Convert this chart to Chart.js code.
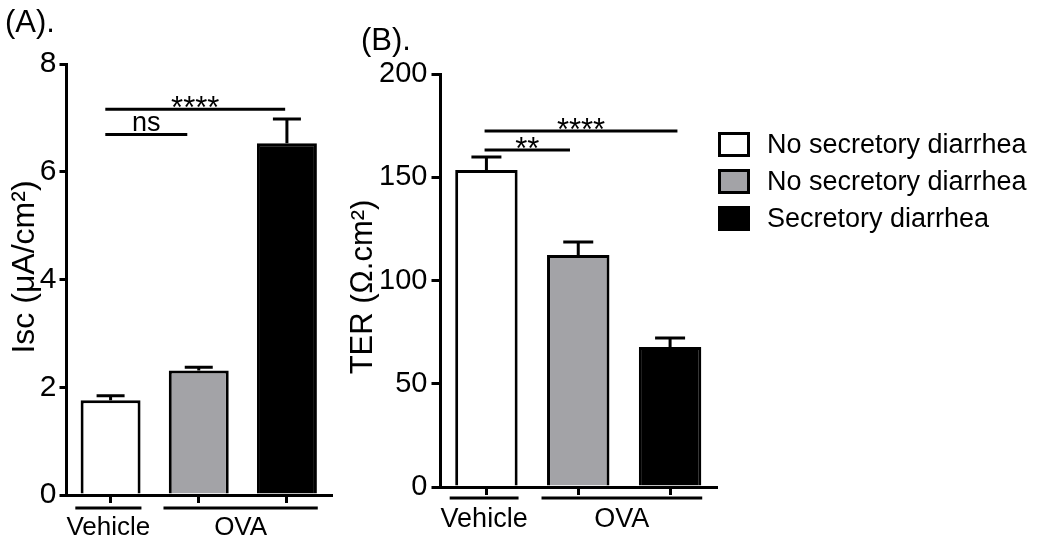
<!DOCTYPE html>
<html lang="en">
<head>
  <meta charset="UTF-8">
  <title>Isc and TER</title>
  <script src="https://cdn.jsdelivr.net/npm/chart.js"></script>
  <style>
    body {
      margin: 0;
      background: #ffffff;
      font-family: 'Liberation Sans', Arial, sans-serif;
    }

    .wrap {
      position: relative;
      width: 1050px;
      height: 547px;
      overflow: hidden;
    }

    canvas {
      position: absolute;
      top: 0;
    }

    #iscChart { left: 0; }
    #terChart { left: 350px; }

    .legend {
      position: absolute;
      left: 718px;
      top: 126px;
    }

    .legend-row {
      display: flex;
      align-items: center;
      height: 37px;
      font-size: 27px;
      color: #000000;
      white-space: nowrap;
    }

    .legend-box {
      width: 26px;
      height: 19px;
      border: 3px solid #000000;
      margin-right: 17px;
    }
  </style>
</head>
<body>

  <div class="wrap">
    <canvas id="iscChart" width="350" height="547"></canvas>
    <canvas id="terChart" width="380" height="547"></canvas>
    <div class="legend" id="legend"></div>
  </div>

  <script>
    const categories = ['No secretory diarrhea', 'No secretory diarrhea', 'Secretory diarrhea'];
    const barColors = ['#ffffff', '#a3a3a7', '#000000'];
    const groupLabels = ['Vehicle', 'OVA'];
    const groupFirst = [0, 1];
    const groupLast = [0, 2];

    // (A) Isc
    const iscMean = [1.76, 2.31, 6.53];
    const iscSem = [0.08, 0.06, 0.45];
    const iscTicks = [0, 2, 4, 6, 8];
    const iscSigText = ['****', 'ns'];
    const iscSigFrom = [-0.06, -0.06];
    const iscSigTo = [1.98, 0.87];
    const iscSigLevel = [7.16, 6.69];

    // (B) TER
    const terMean = [153.5, 112.3, 67.8];
    const terSem = [6.3, 6.3, 4.4];
    const terTicks = [0, 50, 100, 150, 200];
    const terSigText = ['****', '**'];
    const terSigFrom = [-0.02, -0.02];
    const terSigTo = [2.08, 0.91];
    const terSigLevel = [172.4, 163.2];

    const FONT = "'Liberation Sans', Arial, sans-serif";
    Chart.defaults.font.family = FONT;
    Chart.defaults.color = '#000000';

    // legend (right side)
    const legendEl = document.getElementById('legend');
    categories.forEach((label, i) => {
      const row = document.createElement('div');
      row.className = 'legend-row';
      const box = document.createElement('div');
      box.className = 'legend-box';
      box.style.background = barColors[i];
      row.appendChild(box);
      row.appendChild(document.createTextNode(label));
      legendEl.appendChild(row);
    });

    function panelPlugin(d, L) {
      return {
        id: 'panel' + L.tag.replace(/\W/g, ''),
        afterDatasetsDraw(chart) {
          // error bars (upper half only)
          const ctx = chart.ctx;
          const ys = chart.scales.y;
          const meta = chart.getDatasetMeta(0);
          ctx.save();
          ctx.strokeStyle = '#000';
          ctx.lineWidth = 3;
          d.mean.forEach((v, i) => {
            const x = meta.data[i].x;
            const y0 = ys.getPixelForValue(v);
            const y1 = ys.getPixelForValue(v + d.sem[i]);
            ctx.beginPath();
            ctx.moveTo(x, y0);
            ctx.lineTo(x, y1);
            ctx.moveTo(x - L.cap, y1);
            ctx.lineTo(x + L.cap, y1);
            ctx.stroke();
          });
          ctx.restore();
        },
        afterDraw(chart) {
          const ctx = chart.ctx;
          const xs = chart.scales.x;
          const ys = chart.scales.y;
          const catW = (xs.right - xs.left) / categories.length;
          const at = idx => xs.left + (idx + 0.5) * catW;

          ctx.save();
          ctx.strokeStyle = '#000';
          ctx.fillStyle = '#000';
          ctx.lineWidth = 3;

          // group lines + labels under the axis
          groupLabels.forEach((g, k) => {
            const x1 = at(groupFirst[k] - 0.4);
            const x2 = at(groupLast[k] + 0.35);
            const y = ys.bottom + L.groupLineOff;
            ctx.beginPath();
            ctx.moveTo(x1, y);
            ctx.lineTo(x2, y);
            ctx.stroke();
            ctx.font = L.groupFont + 'px ' + FONT;
            ctx.textAlign = 'center';
            ctx.textBaseline = 'alphabetic';
            ctx.fillText(g, (x1 + x2) / 2, ys.bottom + L.groupLabelOff);
          });

          // significance lines
          d.sigText.forEach((t, k) => {
            const x1 = at(d.sigFrom[k]);
            const x2 = at(d.sigTo[k]);
            const y = ys.getPixelForValue(d.sigLevel[k]);
            ctx.beginPath();
            ctx.moveTo(x1, y);
            ctx.lineTo(x2, y);
            ctx.stroke();
            ctx.textAlign = 'center';
            ctx.textBaseline = 'alphabetic';
            if (t.indexOf('*') >= 0) {
              ctx.font = '31px ' + FONT;
              ctx.fillText(t, (x1 + x2) / 2, y + 9);
            } else {
              ctx.font = '27px ' + FONT;
              ctx.fillText(t, (x1 + x2) / 2, y - 4);
            }
          });

          // y axis title
          ctx.save();
          ctx.translate(L.titleX, L.titleY);
          ctx.rotate(-Math.PI / 2);
          ctx.font = L.titleFont + 'px ' + FONT;
          ctx.textAlign = 'center';
          ctx.textBaseline = 'alphabetic';
          ctx.fillText(L.title, 0, 0);
          ctx.restore();

          // panel tag
          ctx.font = '31px ' + FONT;
          ctx.textAlign = 'left';
          ctx.textBaseline = 'alphabetic';
          ctx.fillText(L.tag, L.tagX, L.tagY);
          ctx.restore();
        }
      };
    }

    function drawPanel(id, d, L) {
      return new Chart(document.getElementById(id), {
        type: 'bar',
        data: {
          labels: categories,
          datasets: [{
            data: d.mean,
            backgroundColor: barColors,
            borderColor: '#000000',
            borderWidth: 3,
            borderSkipped: 'start',
            barPercentage: 0.68,
            categoryPercentage: 1
          }]
        },
        options: {
          responsive: false,
          devicePixelRatio: 1,
          animation: false,
          layout: { padding: { top: L.padTop, right: L.padRight, left: 0, bottom: 0 } },
          plugins: {
            legend: { display: false },
            tooltip: { enabled: false }
          },
          scales: {
            x: {
              grid: { display: true, drawOnChartArea: false, offset: false, tickLength: 8, lineWidth: 3, color: '#000' },
              border: { display: true, color: '#000', width: 3, z: 1 },
              ticks: { display: false },
              afterFit: s => { s.height = L.xHeight; }
            },
            y: {
              min: d.ticks[0],
              max: d.ticks[d.ticks.length - 1],
              grid: { display: true, drawOnChartArea: false, tickLength: L.tickLen, lineWidth: 3, color: '#000' },
              border: { display: true, color: '#000', width: 3 },
              ticks: { color: '#000', padding: L.tickPad, font: { size: L.tickFont } },
              afterBuildTicks: s => { s.ticks = d.ticks.map(v => ({ value: v })); },
              afterFit: s => { s.width = L.yWidth; }
            }
          }
        },
        plugins: [panelPlugin(d, L)]
      });
    }

    drawPanel('iscChart', {
      mean: iscMean, sem: iscSem, ticks: iscTicks,
      sigText: iscSigText, sigFrom: iscSigFrom, sigTo: iscSigTo, sigLevel: iscSigLevel
    }, {
      padTop: 64, padRight: 19, yWidth: 66.5, xHeight: 52,
      tickLen: 7, tickPad: 3, tickFont: 30,
      groupLineOff: 13, groupLabelOff: 40, groupFont: 26,
      title: 'Isc (μA/cm²)', titleX: 34, titleY: 267, titleFont: 32,
      tag: '(A).', tagX: 5, tagY: 32, cap: 14
    });

    drawPanel('terChart', {
      mean: terMean, sem: terSem, ticks: terTicks,
      sigText: terSigText, sigFrom: terSigFrom, sigTo: terSigTo, sigLevel: terSigLevel
    }, {
      padTop: 74, padRight: 14, yWidth: 90.5, xHeight: 60,
      tickLen: 9, tickPad: 4, tickFont: 29,
      groupLineOff: 11, groupLabelOff: 40, groupFont: 27,
      title: 'TER (Ω.cm²)', titleX: 22, titleY: 287, titleFont: 31,
      tag: '(B).', tagX: 11, tagY: 50, cap: 15
    });
  </script>

</body>
</html>
